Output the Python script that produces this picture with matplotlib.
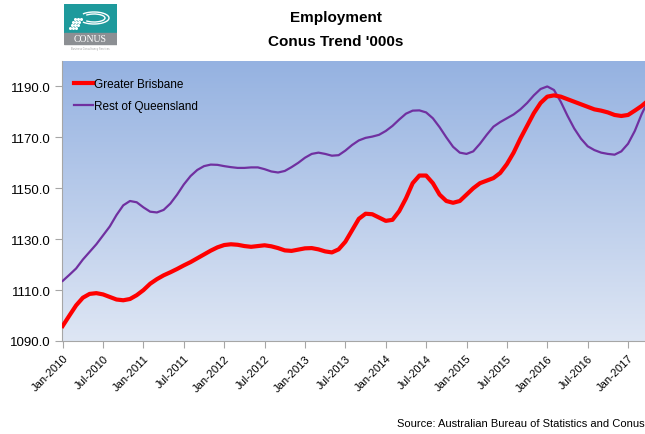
import numpy as np
import pandas as pd
import matplotlib
matplotlib.use("Agg")
import matplotlib.pyplot as plt
from matplotlib.patches import Rectangle, Arc

# ---------------- data (Conus trend, '000 persons) ----------------
start_month = "2010-01"
greater_brisbane = [
    1095.9, 1100.0, 1104.0, 1107.0, 1108.5, 1108.8, 1108.3, 1107.3, 1106.3, 1106.0,
    1106.5, 1108.0, 1110.0, 1112.5, 1114.3, 1115.8, 1117.0, 1118.3, 1119.7, 1121.0,
    1122.5, 1124.0, 1125.5, 1126.8, 1127.7, 1128.0, 1127.8, 1127.3, 1127.0, 1127.3,
    1127.6, 1127.2, 1126.5, 1125.6, 1125.4, 1125.9, 1126.4, 1126.5, 1126.0, 1125.2,
    1124.8, 1126.0, 1129.0, 1133.5, 1138.0, 1140.0, 1139.8, 1138.5, 1137.2, 1137.6,
    1141.0, 1146.0, 1152.0, 1155.0, 1155.0, 1152.0, 1147.5, 1145.0, 1144.3, 1145.0,
    1147.5, 1150.0, 1152.0, 1153.0, 1154.0, 1156.0, 1159.5, 1164.0, 1169.5, 1174.5,
    1179.5, 1183.5, 1186.0, 1186.5, 1186.0, 1185.0, 1184.0, 1183.0, 1182.0, 1181.0,
    1180.5, 1179.8, 1178.8, 1178.4, 1178.8, 1180.5, 1182.3, 1184.5,
]
rest_of_qld = [
    1113.6, 1116.0, 1118.5, 1122.0, 1125.0, 1128.0, 1131.5, 1135.0, 1139.5, 1143.3,
    1145.0, 1144.5, 1142.5, 1140.8, 1140.5, 1141.5, 1144.0, 1147.5, 1151.5, 1154.8,
    1157.2, 1158.7, 1159.3, 1159.2, 1158.7, 1158.3, 1158.0, 1158.0, 1158.2, 1158.2,
    1157.5, 1156.6, 1156.2, 1156.8, 1158.3, 1160.0, 1162.0, 1163.5, 1164.0, 1163.5,
    1162.8, 1163.0, 1164.8, 1167.0, 1168.8, 1169.8, 1170.3, 1171.0, 1172.5, 1174.5,
    1177.0, 1179.3, 1180.5, 1180.6, 1179.8, 1177.5, 1174.0, 1170.0, 1166.3, 1164.0,
    1163.5, 1164.5, 1167.5, 1171.0, 1174.2, 1176.0, 1177.5, 1179.0, 1181.0, 1183.5,
    1186.5, 1189.0, 1190.0, 1188.6, 1184.0, 1178.5, 1173.5, 1169.5, 1166.5, 1165.0,
    1164.0, 1163.5, 1163.2, 1164.5, 1167.5, 1172.5, 1179.0, 1184.5,
]
y_ticks = [1090, 1110, 1130, 1150, 1170, 1190]

months = pd.period_range(start_month, periods=len(greater_brisbane), freq="M")
x = np.arange(len(months))
tick_idx = x[::6]
tick_labels = [months[i].strftime("%b-%Y") for i in tick_idx]

FONT = "Liberation Sans"

# ---------------- figure ----------------
fig = plt.figure(figsize=(6.45, 4.35), dpi=100)
ax = fig.add_axes([62/645, 1 - 342/435, 1 - 62/645, 280/435])

# gradient background (dark blue at top, pale at bottom)
top_c = np.array([0x95, 0xB2, 0xE1]) / 255
bot_c = np.array([0xDE, 0xE6, 0xF4]) / 255
grad = np.linspace(0, 1, 256)[:, None]
img = top_c[None, None, :] * (1 - grad[..., None]) + bot_c[None, None, :] * grad[..., None]
x_max = (645 - 61) / 6.75
ax.imshow(img, extent=[-0.1, x_max, 1090, 1200], aspect="auto", zorder=0)

ax.plot(x, rest_of_qld, color="#7030A0", lw=1.6, label="Rest of Queensland", zorder=3)
ax.plot(x, greater_brisbane, color="#FF0000", lw=3.0, label="Greater Brisbane", zorder=4)

ax.set_xlim(-0.1, x_max)
ax.set_ylim(1090, 1200)
ax.set_yticks(y_ticks)
ax.set_yticklabels([f"{v:.1f}" for v in y_ticks], fontsize=9.5, family=FONT)
ax.set_xticks(tick_idx)
ax.set_xticklabels(tick_labels, rotation=45, ha="right", rotation_mode="anchor",
                   fontsize=8, family=FONT)

for s in ["top", "right"]:
    ax.spines[s].set_visible(False)
for s in ["left", "bottom"]:
    ax.spines[s].set_color("#A6A6A6")
ax.tick_params(axis="both", colors="#A6A6A6", labelcolor="black", length=5, width=0.8, direction="out")
ax.tick_params(axis="y", pad=3)

handles, labels = ax.get_legend_handles_labels()
leg = ax.legend(handles[::-1], labels[::-1], loc="upper left", bbox_to_anchor=(0.0, 0.98),
                frameon=False, handlelength=1.6, handletextpad=0.1,
                labelspacing=0.85, borderaxespad=0.6, prop={"family": FONT, "size": 8.5})

# titles
fig.text(0.521, 1 - 18/435, "Employment", ha="center", va="center", fontsize=11,
         fontweight="bold", family=FONT)
fig.text(0.521, 1 - 42/435, "Conus Trend '000s", ha="center", va="center", fontsize=11,
         fontweight="bold", family=FONT)

# source note
fig.text(1.0, 1 - 424/435, "Source: Australian Bureau of Statistics and Conus", ha="right",
         va="center", fontsize=8, family=FONT)

# logo (rough)
lax = fig.add_axes([64/645, 1 - 52/435, 53/645, 47/435])
lax.set_xlim(0, 53)
lax.set_ylim(47, 0)
lax.axis("off")
lax.add_patch(Rectangle((0, 0), 53, 29, color="#1E9A9C"))
lax.add_patch(Rectangle((0, 29), 53, 11, color="#8C8F93"))
lax.text(26.5, 35, "CONUS", color="white", ha="center", va="center", fontsize=7,
         family="Liberation Serif")
lax.text(26.5, 44, "Business Consultancy Services", color="#9A9A9A", ha="center",
         va="center", fontsize=1.8)
for w, h in [(30, 12), (22, 8)]:
    lax.add_patch(Arc((30, 14), w, h, theta1=200, theta2=520, color="white", lw=1))
for i in range(4):
    for j in range(3):
        lax.plot(6 + j * 3 + i * 1.5, 24 - i * 3, "o", color="white", ms=1.2)

fig.savefig("out.png", dpi=100)
